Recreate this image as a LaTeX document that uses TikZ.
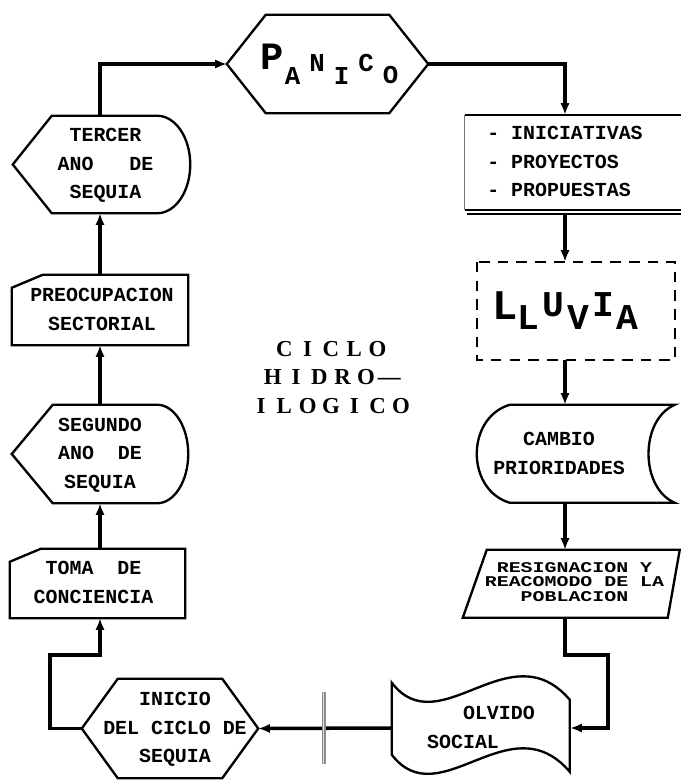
\documentclass[tikz,border=0pt]{standalone}
\usepackage{fontspec}
\setmainfont{Liberation Serif}
\setmonofont{Liberation Mono}
\usepackage{graphicx}
\usetikzlibrary{arrows.meta,calc}
\newlength\pxu
\setlength\pxu{0.03cm}
% text block inside a shape, shifted sideways by #1 px
\newcommand\boxlines[3][0]{\kern#1\pxu\begin{tabular}{@{}#2@{}}#3\end{tabular}\kern-#1\pxu}
% letters on a fixed pitch
\newcommand\spreadword[1]{\foreach \ch in {#1}{\makebox[19.9pt]{\ch}}}
% outlines drawn round a named node
\newcommand\hexpath[2]{\draw[shapeline] (#1.west) -- ($(#1.north west)+(#2,0)$) -- ($(#1.north east)+(-#2,0)$) -- (#1.east) -- ($(#1.south east)+(-#2,0)$) -- ($(#1.south west)+(#2,0)$) -- cycle;}
\newcommand\displaypath[3]{\draw[shapeline] (#1.west) -- ($(#1.north west)+(#2,0)$) -- ($(#1.north east)+(-#3,0)$) .. controls ($(#1.north east)+(-0.45*#3,0)$) and ($(#1.east)+(0,-27)$) .. (#1.east) .. controls ($(#1.east)+(0,27)$) and ($(#1.south east)+(-0.45*#3,0)$) .. ($(#1.south east)+(-#3,0)$) -- ($(#1.south west)+(#2,0)$) -- cycle;}
\newcommand\cutpath[1]{\draw[shapeline] ($(#1.north west)+(31,0)$) -- (#1.north east) -- (#1.south east) -- (#1.south west) -- ($(#1.north west)+(0,13)$) -- cycle;}
\begin{document}
\begin{tikzpicture}[x=0.03cm,y=-0.03cm,
  shapeline/.style={line width=2pt,line join=miter},
  arr/.style={-{Latex[length=10pt,width=8pt]},line width=3pt},
  boxtext/.style={font=\ttfamily\bfseries\fontsize{17}{24.5}\selectfont},
  shapebox/.style 2 args={inner sep=0pt,minimum width=#1*\pxu,minimum height=#2*\pxu,boxtext}]
\useasboundingbox[fill=white] (0,0) rectangle (681,780);
\coordinate (colL) at (100,0);
\coordinate (colR) at (565,0);
\coordinate (bendR) at (608,655);
\coordinate (bendL) at (50,655);
% top
\node[shapebox={201}{98},font=\ttfamily\bfseries\fontsize{22}{22}\selectfont] (panico) at (327.5,64) {\kern2\pxu{\fontsize{33}{33}\selectfont P}\hspace{1\pxu}\raisebox{-15\pxu}{A}\hspace{9\pxu}\raisebox{-2\pxu}{N}\hspace{9\pxu}\raisebox{-15\pxu}{I}\hspace{9\pxu}\raisebox{-2\pxu}{C}\hspace{9\pxu}\raisebox{-14\pxu}{O}\kern-2\pxu};
% left column
\node[shapebox={177}{97}] (tercer) at (101.5,164.5) {\boxlines[4]{c}{TERCER\\ANO\ \ \ DE\\SEQUIA}};
\node[shapebox={176}{70}] (preocup) at (100,310) {\boxlines[2]{c}{PREOCUPACION\\SECTORIAL}};
\node[shapebox={176}{98}] (segundo) at (100,454) {\boxlines{c}{SEGUNDO\\ANO\ \ DE\\SEQUIA}};
\node[shapebox={175}{69}] (toma) at (97.5,583.5) {\boxlines[-4]{c}{TOMA\ \ DE\\CONCIENCIA}};
% bottom
\node[shapebox={176}{99}] (inicio) at (170,728.5) {\boxlines[5]{c}{INICIO\\DEL CICLO DE\\SEQUIA}};
\node[shapebox={178}{100}] (olvido) at (481,728) {\boxlines{l}{\ \ \ OLVIDO\\SOCIAL}};
% right column
\node[shapebox={218}{95}] (iniciat) at (574,162.5) {\boxlines[-9]{l}{- INICIATIVAS\\- PROYECTOS\\- PROPUESTAS}};
\node[shapebox={198}{98},font=\ttfamily\bfseries\fontsize{31}{31}\selectfont] (lluvia) at (576,311) {\kern-10.6\pxu{\fontsize{36}{36}\selectfont L}\hspace{0.3\pxu}\raisebox{-10\pxu}{L}\hspace{3\pxu}\raisebox{3\pxu}{U}\hspace{3\pxu}\raisebox{-10\pxu}{V}\hspace{3\pxu}\raisebox{3\pxu}{I}\hspace{3\pxu}\raisebox{-10\pxu}{A}\kern10.6\pxu};
\node[shapebox={200}{98}] (cambio) at (575,454) {\boxlines[-16]{c}{CAMBIO\\PRIORIDADES}};
\node[shapebox={217}{68},font=\ttfamily\bfseries\fontsize{17}{17}\selectfont] (resign) at (571.5,584) {\kern3\pxu\scalebox{1}[0.75]{\begin{tabular}{@{}c@{}}RESIGNACION Y\\REACOMODO DE LA\\POBLACION\end{tabular}}\kern-3\pxu};
% centre title
\node[inner sep=0pt,font=\bfseries\fontsize{19.5}{24.5}\selectfont] (titulo) at (331,379) {\boxlines{c}{\spreadword{C,I,C,L,O}\\\spreadword{H,I,D,R,O,—}\\\spreadword{I,L,O,G,I,C,O}}};
% outlines
\hexpath{panico}{39}
\displaypath{tercer}{39}{33}
\cutpath{preocup}
\displaypath{segundo}{41}{31}
\cutpath{toma}
\hexpath{inicio}{36}
\draw[shapeline,shift={(olvido.north west)}] (0,5) .. controls (48,67) and (118,-48) .. (178,22) -- (178,94) .. controls (118,24) and (48,139) .. (0,77) -- cycle;
\draw[shapeline] (iniciat.north west) -- (iniciat.north east) -- (iniciat.south east) -- (iniciat.south west);
\draw[black!55,line width=0.8pt] (iniciat.north west) -- (iniciat.south west);
\draw[shapeline] ($(iniciat.south west)+(2,4)$) -- ($(iniciat.south east)+(0,4)$);
\draw[shapeline,dash pattern=on 9pt off 7pt] (lluvia.north west) rectangle (lluvia.south east);
\draw[shapeline,shift={(cambio.north west)}] (35,0) -- (200,0) .. controls (165,15) and (165,83) .. (200,98) -- (35,98) .. controls (-9,85) and (-9,13) .. (35,0) -- cycle;
\draw[shapeline,shift={(resign.north west)}] (24,0) -- (217,0) -- (205,68) -- (0,68) -- cycle;
% connectors
\draw[arr] (tercer.north -| colL) |- (panico.west);
\draw[arr] (panico.east) -| (iniciat.north -| colR);
\draw[arr] ($(iniciat.south -| colR)+(0,4)$) -- (lluvia.north -| colR);
\draw[arr] (lluvia.south -| colR) -- (cambio.north -| colR);
\draw[arr] (cambio.south -| colR) -- (resign.north -| colR);
\draw[arr] (resign.south -| colR) |- (bendR) |- (olvido.east);
\draw[arr] (olvido.west) -- coordinate[pos=0.51] (cut) (inicio.east);
\draw[black!45,double=black!15,double distance=1pt,line width=1.2pt] ($(cut)+(0,-36)$) -- ($(cut)+(0,36)$);
\draw[arr] (inicio.west) -| (bendL) -| (toma.south -| colL);
\draw[arr] (toma.north -| colL) -- (segundo.south -| colL);
\draw[arr] (segundo.north -| colL) -- (preocup.south -| colL);
\draw[arr] (preocup.north -| colL) -- (tercer.south -| colL);
\end{tikzpicture}
\end{document}
